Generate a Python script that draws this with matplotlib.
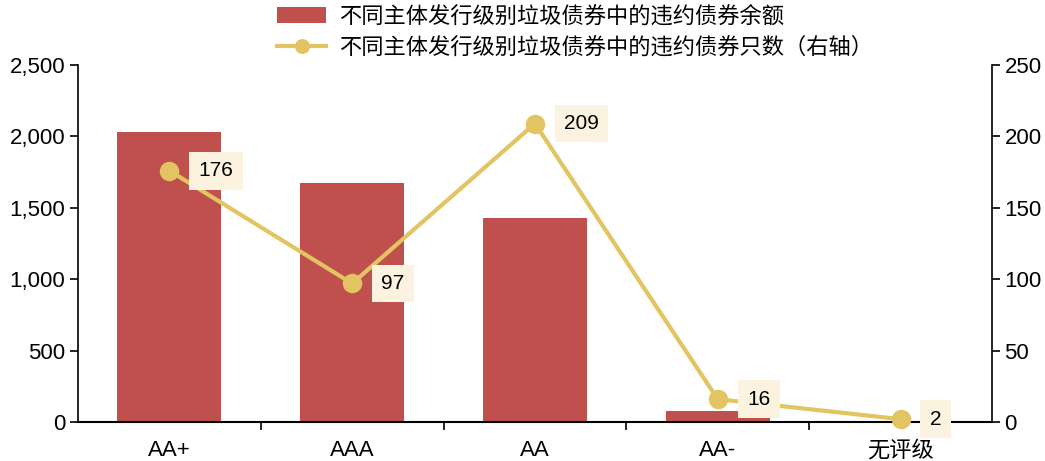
import matplotlib
matplotlib.use("Agg")
import matplotlib.pyplot as plt
from matplotlib.ticker import FuncFormatter, FixedLocator

plt.rcParams['font.family'] = ['Liberation Sans', 'Noto Sans CJK SC', 'DejaVu Sans']

categories = ["AA+", "AAA", "AA", "AA-", "无评级"]
default_amount = [2031, 1674, 1429, 77, 0]
default_count = [176, 97, 209, 16, 2]

bar_label = "不同主体发行级别垃圾债券中的违约债券余额"
line_label = "不同主体发行级别垃圾债券中的违约债券只数（右轴）"

bar_color = "#C0504D"
line_color = "#E2C462"

fig = plt.figure(figsize=(10.45, 4.61), dpi=100)
ax = fig.add_axes([0.0746, 0.0846, 0.8746, 0.7744])
x = list(range(len(categories)))

bars = ax.bar(x, default_amount, width=0.57, color=bar_color, label=bar_label, zorder=2)
ax.set_xlim(-0.5, len(categories) - 0.5)
ax.set_ylim(0, 2500)
ax.set_yticks(range(0, 2501, 500))
ax.yaxis.set_major_formatter(FuncFormatter(lambda v, p: f"{int(v):,}"))
ax.set_xticks(x)
ax.set_xticklabels(categories)
ax.xaxis.set_minor_locator(FixedLocator([i + 0.5 for i in range(len(categories) - 1)]))
ax.tick_params(axis='x', which='major', length=0, labelsize=16, pad=13)
ax.tick_params(axis='x', which='minor', length=6, width=1.2, direction='out')
ax.tick_params(axis='y', length=6, width=1.2, labelsize=16, direction='out', pad=3)
for s in ['top', 'right']:
    ax.spines[s].set_visible(False)
ax.spines['left'].set_linewidth(1.2)
ax.spines['bottom'].set_linewidth(1.5)

ax2 = ax.twinx()
line, = ax2.plot(x, default_count, color=line_color, lw=3, marker='o', markersize=13,
                 label=line_label, zorder=3, clip_on=False)
ax2.set_ylim(0, 250)
ax2.set_yticks(range(0, 251, 50))
ax2.tick_params(axis='y', length=6, width=1.2, labelsize=16, direction='out', pad=3)
for s in ['top', 'left', 'bottom']:
    ax2.spines[s].set_visible(False)
ax2.spines['right'].set_linewidth(1.2)

for xi, v in zip(x, default_count):
    ax2.annotate(str(v), (xi, v), xytext=(21, 0), textcoords='offset points',
                 ha='left', va='center', fontsize=15,
                 bbox=dict(boxstyle='square,pad=0.45', fc='#FBF3DF', ec='none'))

fig.legend([bars, line], [bar_label, line_label], loc='upper left',
           bbox_to_anchor=(0.246, 1.03), frameon=False, fontsize=16,
           handlelength=2.2, labelspacing=0.45, handletextpad=0.6,
           markerscale=0.75)

fig.savefig("out.png", dpi=100)
